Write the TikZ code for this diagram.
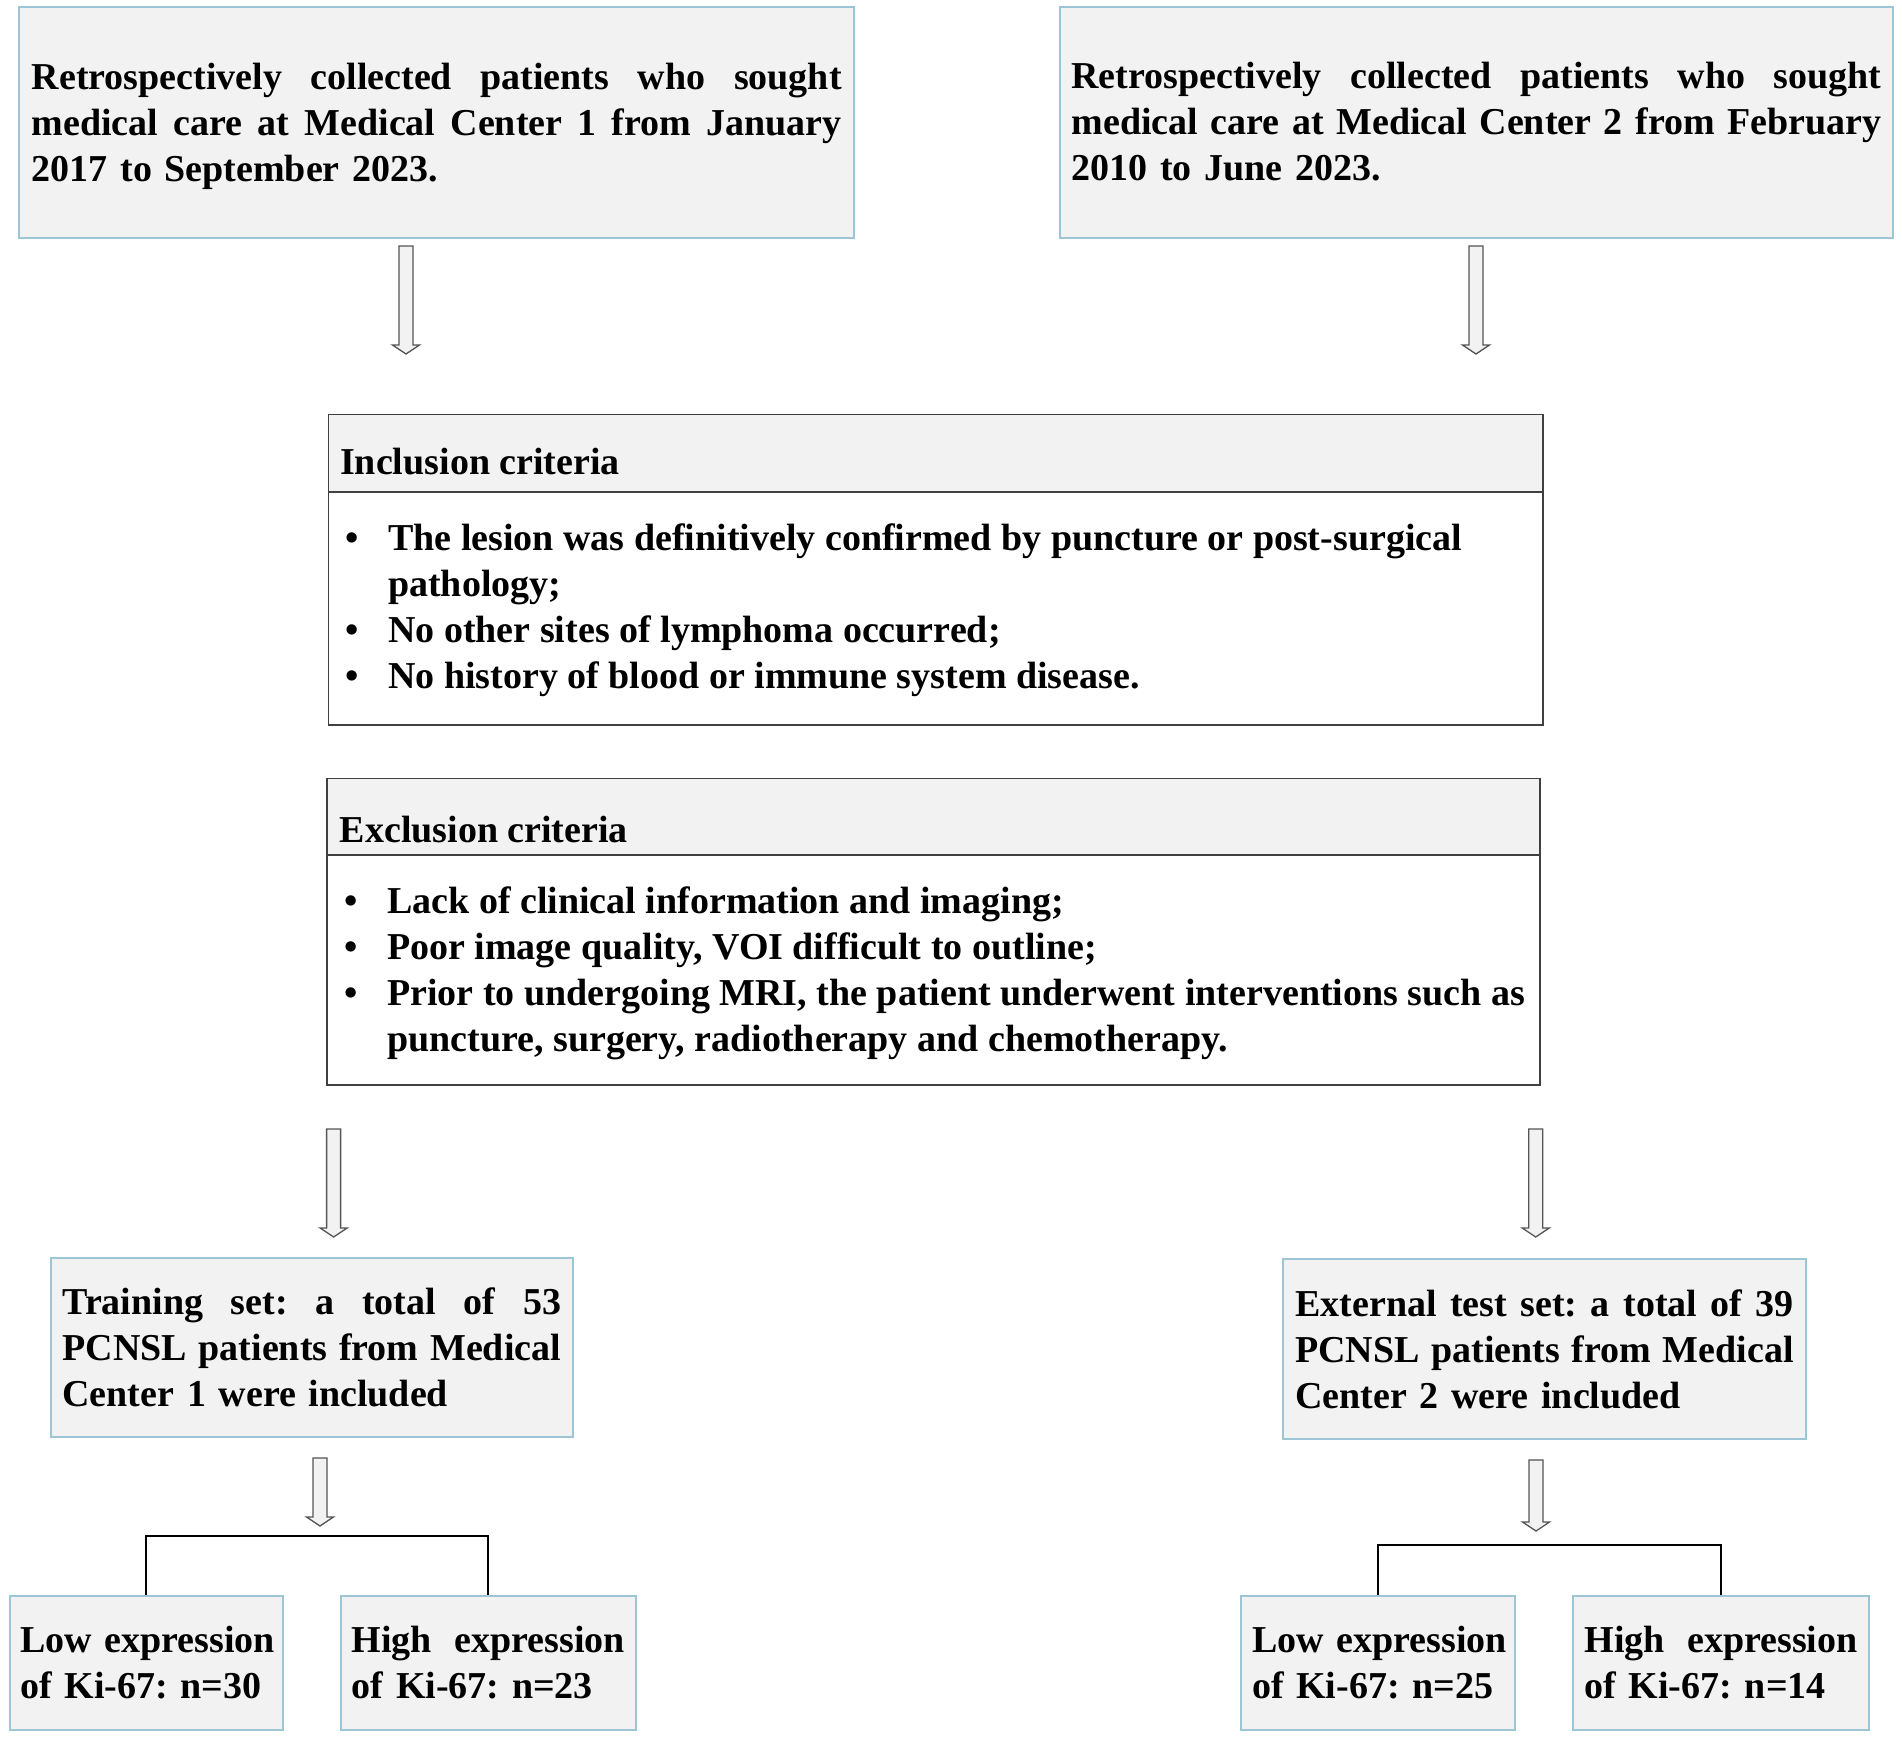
\documentclass[tikz,border=0pt]{standalone}
\usepackage{fontspec}
\setmainfont{Liberation Serif}
\usetikzlibrary{positioning}
\definecolor{boxfill}{HTML}{F2F2F2}
\definecolor{blueline}{HTML}{9CC5D6}
\definecolor{critline}{HTML}{404040}
\definecolor{arrline}{HTML}{555555}
\newcommand\jl[2]{{\spaceskip=0pt\relax\xspaceskip=0pt\relax\makebox[#1][s]{#2}}}
\newcommand\blockarrow[3]{\draw[arrowshape] ({#1-7},#2) -- ({#1+7},#2) -- ({#1+7},{#3-9}) -- ({#1+13.5},{#3-9}) -- (#1,#3) -- ({#1-13.5},{#3-9}) -- ({#1-7},{#3-9}) -- cycle;}
\tikzset{
  txt/.style={font=\fontsize{38}{46}\selectfont\bfseries\frenchspacing},
  bluebox/.style={txt, draw=blueline, line width=2pt, fill=boxfill, align=left, inner sep=0pt},
  critbox/.style={draw=critline, line width=1.8pt, inner sep=0pt},
  arrowshape/.style={draw=arrline, line width=1.3pt, fill=boxfill, line join=miter},
  bracket/.style={draw=black, line width=2pt}
}
\begin{document}
\begin{tikzpicture}[x=1pt,y=-1pt]
\useasboundingbox[fill=white] (0,0) rectangle (1902,1737);

% top boxes
\node[bluebox, minimum width=834.6pt, minimum height=230.4pt] (srcA) at (436.7,122.5) {};
\node[txt, inner sep=0pt, align=left, text width=810pt] (srcAt) at (436.7,126.5)
  {\jl{810pt}{Retrospectively collected patients who sought}\\
   \jl{810pt}{medical care at Medical Center 1 from January}\\
   2017 to September 2023.};
\node[bluebox, minimum width=833.5pt, minimum height=230.4pt] (srcB) at (1476.5,122.5) {};
\node[txt, inner sep=0pt, align=left, text width=810pt] (srcBt) at (1476.5,121.5)
  {\jl{810pt}{Retrospectively collected patients who sought}\\
   \jl{810pt}{medical care at Medical Center 2 from February}\\
   2010 to June 2023.};

\blockarrow{406}{246}{354}
\blockarrow{1476}{246}{354}

% inclusion criteria
\node[critbox, fill=boxfill, anchor=north west, minimum width=1214.2pt, minimum height=77.4pt] (inch) at (327.5,413.6) {};
\node[critbox, fill=white, anchor=north west, minimum width=1214.2pt, minimum height=233pt] (incb) at (327.5,491) {};
\node[txt, anchor=west, inner sep=0pt] (inct) at (340,462) {Inclusion criteria};
\node[txt, anchor=west, inner sep=0pt, align=left] (incl) at (345,610.5)
  {\makebox[43pt][l]{\textbullet}The lesion was definitively confirmed by puncture or post-surgical\\
   \hspace*{43pt}pathology;\\
   \makebox[43pt][l]{\textbullet}No other sites of lymphoma occurred;\\
   \makebox[43pt][l]{\textbullet}No history of blood or immune system disease.};

% exclusion criteria
\node[critbox, fill=boxfill, anchor=north west, minimum width=1213pt, minimum height=76.5pt] (exch) at (326,777.5) {};
\node[critbox, fill=white, anchor=north west, minimum width=1213pt, minimum height=230.4pt] (excb) at (326,854) {};
\node[txt, anchor=west, inner sep=0pt] (exct) at (339.6,830) {Exclusion criteria};
\node[txt, anchor=west, inner sep=0pt, align=left] (excl) at (344,973)
  {\makebox[43pt][l]{\textbullet}Lack of clinical information and imaging;\\
   \makebox[43pt][l]{\textbullet}Poor image quality, VOI difficult to outline;\\
   \makebox[43pt][l]{\textbullet}Prior to undergoing MRI, the patient underwent interventions such as\\
   \hspace*{43pt}puncture, surgery, radiotherapy and chemotherapy.};

\blockarrow{333.6}{1129}{1237}
\blockarrow{1535.7}{1129}{1237}

% sets
\node[bluebox, minimum width=521.5pt, minimum height=179pt, text width=498.5pt] (train) at (311.8,1347.5)
  {\jl{498.5pt}{Training set: a total of 53}\\
   \jl{498.5pt}{PCNSL patients from Medical}\\
   Center 1 were included};
\node[bluebox, minimum width=523pt, minimum height=180pt, text width=498.5pt] (ext) at (1544.5,1349)
  {\jl{498.5pt}{External test set: a total of 39}\\
   \jl{498.5pt}{PCNSL patients from Medical}\\
   Center 2 were included};

\blockarrow{320}{1458}{1526}
\blockarrow{1536}{1460}{1531}

% outcome boxes
\node[bluebox, minimum width=273pt, minimum height=134pt, text width=252pt] (lowL) at (146.2,1663)
  {\mbox{Low expression}\\ \mbox{of Ki-67: n=30}};
\node[bluebox, minimum width=294.7pt, minimum height=134pt, text width=273pt] (highL) at (488.3,1663)
  {\jl{273pt}{High expression}\\ of Ki-67: n=23};
\node[bluebox, minimum width=274pt, minimum height=134pt, text width=252pt] (lowR) at (1378,1663)
  {\mbox{Low expression}\\ \mbox{of Ki-67: n=25}};
\node[bluebox, minimum width=296pt, minimum height=134pt, text width=273pt] (highR) at (1721,1663)
  {\jl{273pt}{High expression}\\ of Ki-67: n=14};

\coordinate (brL) at (317,1535.6);
\coordinate (brR) at (1550,1545);
\draw[bracket] (lowL.north) |- (brL) -| (highL.north);
\draw[bracket] (lowR.north) |- (brR) -| (highR.north);
\end{tikzpicture}
\end{document}
